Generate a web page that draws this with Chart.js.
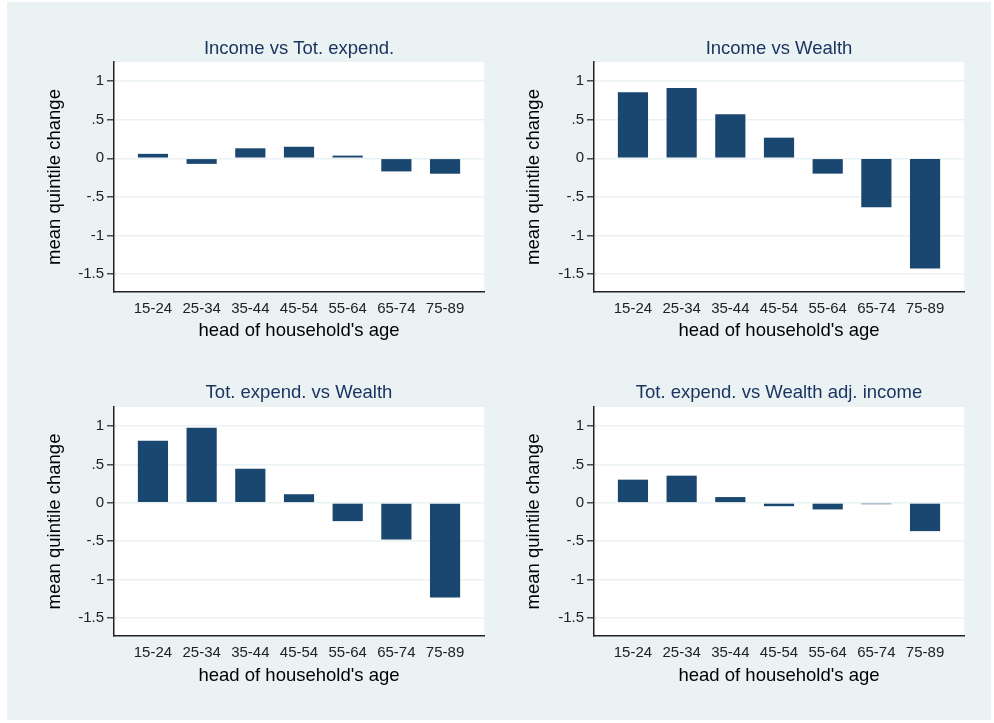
<!DOCTYPE html>
<html>
<head>
<meta charset="utf-8">
<script src="https://cdn.jsdelivr.net/npm/chart.js@4.4.1/dist/chart.umd.min.js"></script>
<style>
  html, body { margin: 0; padding: 0; background: #ffffff; }
  #wrap { position: relative; width: 994px; height: 723px; overflow: hidden; }
  #bg { position: absolute; left: 7px; top: 2px; width: 984px; height: 718px; background: #eaf2f3; }
  .panel { position: absolute; }
</style>
</head>
<body>
<div id="wrap">
  <div id="bg"></div>
  <div class="panel" style="left:0px;top:0px;width:497px;height:361px;"><canvas id="c0"></canvas></div>
  <div class="panel" style="left:497px;top:0px;width:497px;height:361px;"><canvas id="c1"></canvas></div>
  <div class="panel" style="left:0px;top:361px;width:497px;height:362px;"><canvas id="c2"></canvas></div>
  <div class="panel" style="left:497px;top:361px;width:497px;height:362px;"><canvas id="c3"></canvas></div>
</div>
<script>
// ---- data ----
const categories = ['15-24', '25-34', '35-44', '45-54', '55-64', '65-74', '75-89'];
const panelTitles = ['Income vs Tot. expend.', 'Income vs Wealth', 'Tot. expend. vs Wealth', 'Tot. expend. vs Wealth adj. income'];
const incomeVsTotExpend = [0.058, -0.072, 0.13, 0.15, 0.035, -0.17, -0.20];
const incomeVsWealth = [0.857, 0.913, 0.571, 0.268, -0.199, -0.636, -1.429];
const totExpendVsWealth = [0.81, 0.978, 0.446, 0.113, -0.238, -0.476, -1.234];
const totExpendVsWealthAdjIncome = [0.303, 0.355, 0.076, -0.043, -0.085, -0.017, -0.368];
const yTickValues = [-1.5, -1, -0.5, 0, 0.5, 1];
const yTickLabels = ['-1.5', '-1', '-.5', '0', '.5', '1'];
const yAxisTitle = 'mean quintile change';
const xAxisTitle = "head of household's age";

const seriesList = [incomeVsTotExpend, incomeVsWealth, totExpendVsWealth, totExpendVsWealthAdjIncome];

// ---- styling / layout ----
const FONT = '"Liberation Sans", Arial, Helvetica, sans-serif';
const BAR = '#1a476f';
const TITLE_COLOR = '#1c3560';

const plotBg = {
  id: 'plotBg',
  beforeDraw(chart) {
    const a = chart.chartArea, ctx = chart.ctx;
    ctx.save();
    ctx.fillStyle = '#ffffff';
    ctx.fillRect(a.left, a.top, a.right - a.left, a.bottom - a.top);
    ctx.restore();
  }
};

const layouts = [
  { yW: 114, xH: 69, tTop: 37.9, tBot: 1.9, yTitlePad: 43.9, xTitlePad: 18.9 },
  { yW: 97,  xH: 69, tTop: 37.9, tBot: 1.9, yTitlePad: 25.9, xTitlePad: 18.9 },
  { yW: 114, xH: 87, tTop: 20.9, tBot: 2.9, yTitlePad: 43.9, xTitlePad: 36.2 },
  { yW: 97,  xH: 87, tTop: 20.9, tBot: 2.9, yTitlePad: 25.9, xTitlePad: 36.2 }
];
const rightPad = [13, 30, 13, 30];

seriesList.forEach((vals, p) => {
  const L = layouts[p];
  new Chart(document.getElementById('c' + p), {
    type: 'bar',
    data: {
      datasets: [{
        data: vals.map((v, i) => ({ x: i, y: v })),
        backgroundColor: BAR,
        borderColor: BAR,
        borderWidth: 0,
        categoryPercentage: 1,
        barPercentage: 0.62
      }]
    },
    plugins: [plotBg],
    options: {
      responsive: true,
      maintainAspectRatio: false,
      animation: false,
      events: [],
      layout: { padding: { left: 0, right: rightPad[p], top: 0, bottom: 0 } },
      plugins: {
        legend: { display: false },
        tooltip: { enabled: false },
        title: {
          display: true,
          text: panelTitles[p],
          fullSize: false,
          color: TITLE_COLOR,
          font: { family: FONT, size: 18.5, weight: 'normal', lineHeight: 1.2 },
          padding: { top: L.tTop, bottom: L.tBot }
        }
      },
      scales: {
        x: {
          type: 'linear',
          offset: false,
          min: -0.8,
          max: 6.8,
          afterBuildTicks(scale) { scale.ticks = categories.map((c, i) => ({ value: i })); },
          afterFit(scale) { scale.height = L.xH; },
          grid: { display: true, drawOnChartArea: false, drawTicks: false },
          border: { display: true, color: '#222222', width: 1.5 },
          ticks: {
            autoSkip: false,
            maxRotation: 0,
            minRotation: 0,
            padding: 8,
            color: '#222222',
            font: { family: FONT, size: 15, lineHeight: 1.2 },
            callback: (v) => categories[v] !== undefined ? categories[v] : ''
          },
          title: {
            display: true,
            text: xAxisTitle,
            color: '#000000',
            font: { family: FONT, size: 18.5, lineHeight: 1.2 },
            padding: { top: 0, bottom: L.xTitlePad }
          }
        },
        y: {
          type: 'linear',
          min: -1.735,
          max: 1.25,
          afterBuildTicks(scale) { scale.ticks = yTickValues.map(v => ({ value: v })); },
          afterFit(scale) { scale.width = L.yW; },
          grid: {
            display: true,
            drawOnChartArea: true,
            drawTicks: true,
            tickLength: 7,
            color: '#eaf2f3',
            lineWidth: 1.6,
            tickColor: '#222222',
            tickWidth: 1.2
          },
          border: { display: true, color: '#222222', width: 1.5 },
          ticks: {
            padding: 3,
            color: '#222222',
            font: { family: FONT, size: 15, lineHeight: 1.2 },
            callback: (v) => {
              const k = yTickValues.indexOf(v);
              return k >= 0 ? yTickLabels[k] : '';
            }
          },
          title: {
            display: true,
            text: yAxisTitle,
            color: '#000000',
            font: { family: FONT, size: 18.5, lineHeight: 1.2 },
            padding: { top: L.yTitlePad, bottom: 0 }
          }
        }
      }
    }
  });
});
</script>
</body>
</html>
